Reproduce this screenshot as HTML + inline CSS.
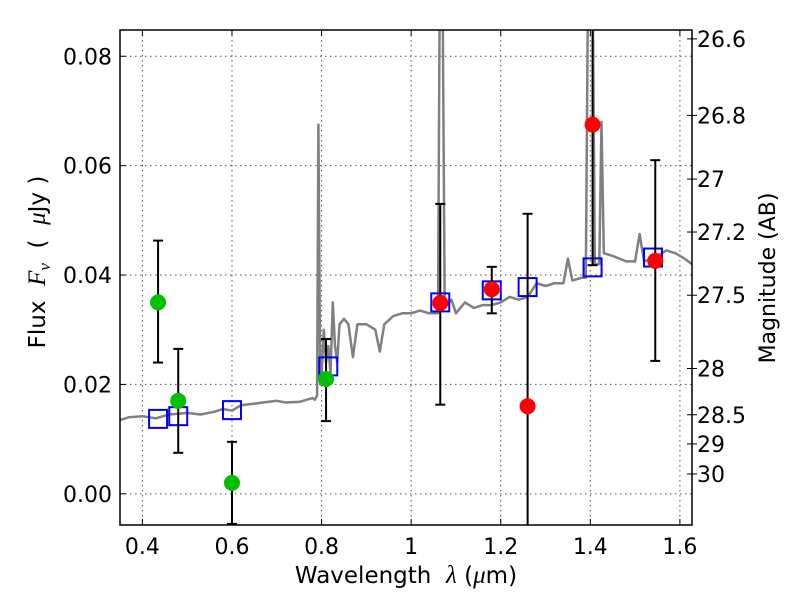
<!DOCTYPE html>
<html><head><meta charset="utf-8"><style>
html,body{margin:0;padding:0;background:#fff;}
svg{display:block;font-family:"DejaVu Sans","Liberation Sans",sans-serif;}
</style></head><body>
<svg id="chart" width="800" height="600" viewBox="0 0 800 600">
<rect x="0" y="0" width="800" height="600" fill="#fff"/>
<defs><clipPath id="clip"><rect x="120" y="30" width="572" height="495"/></clipPath></defs>
<g id="grid"></g>
<g id="spec" clip-path="url(#clip)"></g>
<g id="marks" clip-path="url(#clip)"></g>
<rect x="120" y="30" width="572" height="495" fill="none" stroke="#000" stroke-width="1.5"/>
<g id="axes"></g>
<text x="406" y="583" font-size="23" text-anchor="middle" xml:space="preserve">Wavelength  <tspan font-style="italic" font-family="Liberation Serif, serif" font-size="25">λ</tspan> (<tspan font-style="italic" font-family="Liberation Serif, serif" font-size="25">μ</tspan>m)</text>
<text transform="translate(45,262) rotate(-90)" font-size="23" text-anchor="middle" xml:space="preserve">Flux  <tspan font-style="italic" font-family="Liberation Serif, serif" font-size="25">F</tspan><tspan font-style="italic" font-family="Liberation Serif, serif" font-size="17" dy="5">ν</tspan><tspan dy="-5">  (  </tspan><tspan font-style="italic" font-family="Liberation Serif, serif" font-size="25">μ</tspan>Jy )</text>
<text transform="translate(775,278) rotate(-90)" font-size="22" text-anchor="middle">Magnitude (AB)</text>
</svg>
<script>
const xTicks=[0.4,0.6,0.8,1.0,1.2,1.4,1.6];
const xTickLabels=["0.4","0.6","0.8","1","1.2","1.4","1.6"];
const yTicks=[0,0.02,0.04,0.06,0.08];
const yTickLabels=["0.00","0.02","0.04","0.06","0.08"];
const magTicks=[26.6,26.8,27,27.2,27.5,28,28.5,29,30];
const magTickLabels=["26.6","26.8","27","27.2","27.5","28","28.5","29","30"];
const specWave=[0.35,0.37,0.40,0.43,0.46,0.50,0.53,0.56,0.58,0.60,0.62,0.65,0.68,0.70,0.72,0.75,0.78,0.785,0.79,0.793,0.797,0.80,0.805,0.81,0.815,0.82,0.825,0.83,0.835,0.84,0.85,0.86,0.87,0.88,0.90,0.92,0.93,0.94,0.96,0.98,1.00,1.02,1.04,1.06,1.064,1.070,1.075,1.09,1.10,1.12,1.14,1.16,1.18,1.20,1.22,1.24,1.26,1.28,1.30,1.32,1.34,1.35,1.36,1.38,1.39,1.395,1.405,1.41,1.42,1.425,1.43,1.45,1.48,1.50,1.51,1.52,1.55,1.57,1.59,1.61,1.627];
const specFlux=[0.0135,0.014,0.0142,0.0138,0.0145,0.0148,0.0145,0.015,0.0155,0.0152,0.0162,0.0165,0.0168,0.017,0.0167,0.0168,0.0175,0.0172,0.018,0.0675,0.02,0.022,0.03,0.024,0.027,0.022,0.035,0.027,0.024,0.031,0.032,0.031,0.025,0.031,0.031,0.030,0.026,0.031,0.0325,0.033,0.033,0.0335,0.033,0.033,0.095,0.095,0.034,0.0355,0.033,0.035,0.034,0.0345,0.0345,0.035,0.036,0.0355,0.036,0.0385,0.038,0.0385,0.0385,0.043,0.039,0.0395,0.0395,0.095,0.095,0.042,0.042,0.068,0.044,0.0435,0.0425,0.0425,0.0475,0.0425,0.0435,0.0445,0.044,0.043,0.042];
const obsWave=[0.435,0.48,0.60,0.81,1.065,1.18,1.26,1.405,1.545];
const obsFlux=[0.035,0.017,0.002,0.021,0.0349,0.0374,0.016,0.0675,0.0426];
const obsLow=[0.024,0.0075,-0.0055,0.0133,0.0163,0.033,-0.02,0.0418,0.0243];
const obsHigh=[0.0463,0.0265,0.0095,0.0283,0.053,0.0415,0.0512,0.1,0.061];
const obsColor=["#00c000","#00c000","#00c000","#00c000","#ff0000","#ff0000","#ff0000","#ff0000","#ff0000"];
const modelWave=[0.435,0.48,0.60,0.815,1.065,1.18,1.26,1.405,1.54];
const modelFlux=[0.0137,0.0142,0.0153,0.0233,0.035,0.0372,0.0378,0.0414,0.0432];

const X0=120,X1=692,Y0=30,Y1=525,xmin=0.35,xmax=1.627,ymin=-0.0057,ymax=0.0848;
const sx=v=>X0+(v-xmin)/(xmax-xmin)*(X1-X0);
const sy=v=>Y1-(v-ymin)/(ymax-ymin)*(Y1-Y0);
const NS="http://www.w3.org/2000/svg";
function mk(tag,attrs,parent){const e=document.createElementNS(NS,tag);for(const k in attrs)e.setAttribute(k,attrs[k]);parent.appendChild(e);return e;}
const grid=document.getElementById('grid'),axes=document.getElementById('axes'),spec=document.getElementById('spec'),marks=document.getElementById('marks');
xTicks.forEach((t,i)=>{const x=sx(t);
 const g=mk('line',{x1:x,x2:x,y1:Y0,y2:Y1,stroke:'#555','stroke-width':1,'stroke-dasharray':'1.5,3.5'},grid);
 
 
 mk('line',{x1:x,x2:x,y1:Y1,y2:Y1-6,stroke:'#000'},axes);
 mk('line',{x1:x,x2:x,y1:Y0,y2:Y0+6,stroke:'#000'},axes);
 const l=mk('text',{x:x,y:554,'font-size':22,'text-anchor':'middle'},axes);l.textContent=xTickLabels[i];
 
 
});
yTicks.forEach((t,i)=>{const y=sy(t);
 const g=mk('line',{x1:X0,x2:X1,y1:y,y2:y,stroke:'#555','stroke-width':1,'stroke-dasharray':'1.5,3.5'},grid);
 
 
 mk('line',{x1:X0,x2:X0+6,y1:y,y2:y,stroke:'#000'},axes);
 const l=mk('text',{x:112,y:y+8,'font-size':22,'text-anchor':'end'},axes);l.textContent=yTickLabels[i];
 
 
});
magTicks.forEach((m,i)=>{const y=sy(Math.pow(10,(23.9-m)/2.5));
 mk('line',{x1:X1-5,x2:X1+5,y1:y,y2:y,stroke:'#000'},axes);
 const l=mk('text',{x:697,y:y+8,'font-size':22},axes);l.textContent=magTickLabels[i];
 
 
});
const d=specWave.map((w,i)=>(i?'L':'M')+sx(w).toFixed(1)+','+sy(specFlux[i]).toFixed(1)).join('');
const sp=mk('path',{d:d,fill:'none',stroke:'#808080','stroke-width':2.5,'stroke-linejoin':'round'},spec);


modelWave.forEach((w,i)=>{const x=sx(w),y=sy(modelFlux[i]);
 const r=mk('rect',{x:x-9,y:y-9,width:18,height:18,fill:'none',stroke:'#0000ff','stroke-width':2},marks);
 
 
});
obsWave.forEach((w,i)=>{const x=sx(w),yl=sy(obsLow[i]),yh=sy(obsHigh[i]);
 const e=mk('line',{x1:x,x2:x,y1:yl,y2:yh,stroke:'#000','stroke-width':2},marks);
 
 
 mk('line',{x1:x-5,x2:x+5,y1:yl,y2:yl,stroke:'#000','stroke-width':2},marks);
 mk('line',{x1:x-5,x2:x+5,y1:yh,y2:yh,stroke:'#000','stroke-width':2},marks);
 const c=mk('circle',{cx:x,cy:sy(obsFlux[i]),r:8,fill:obsColor[i]},marks);
 
 
});
</script>
</body></html>
